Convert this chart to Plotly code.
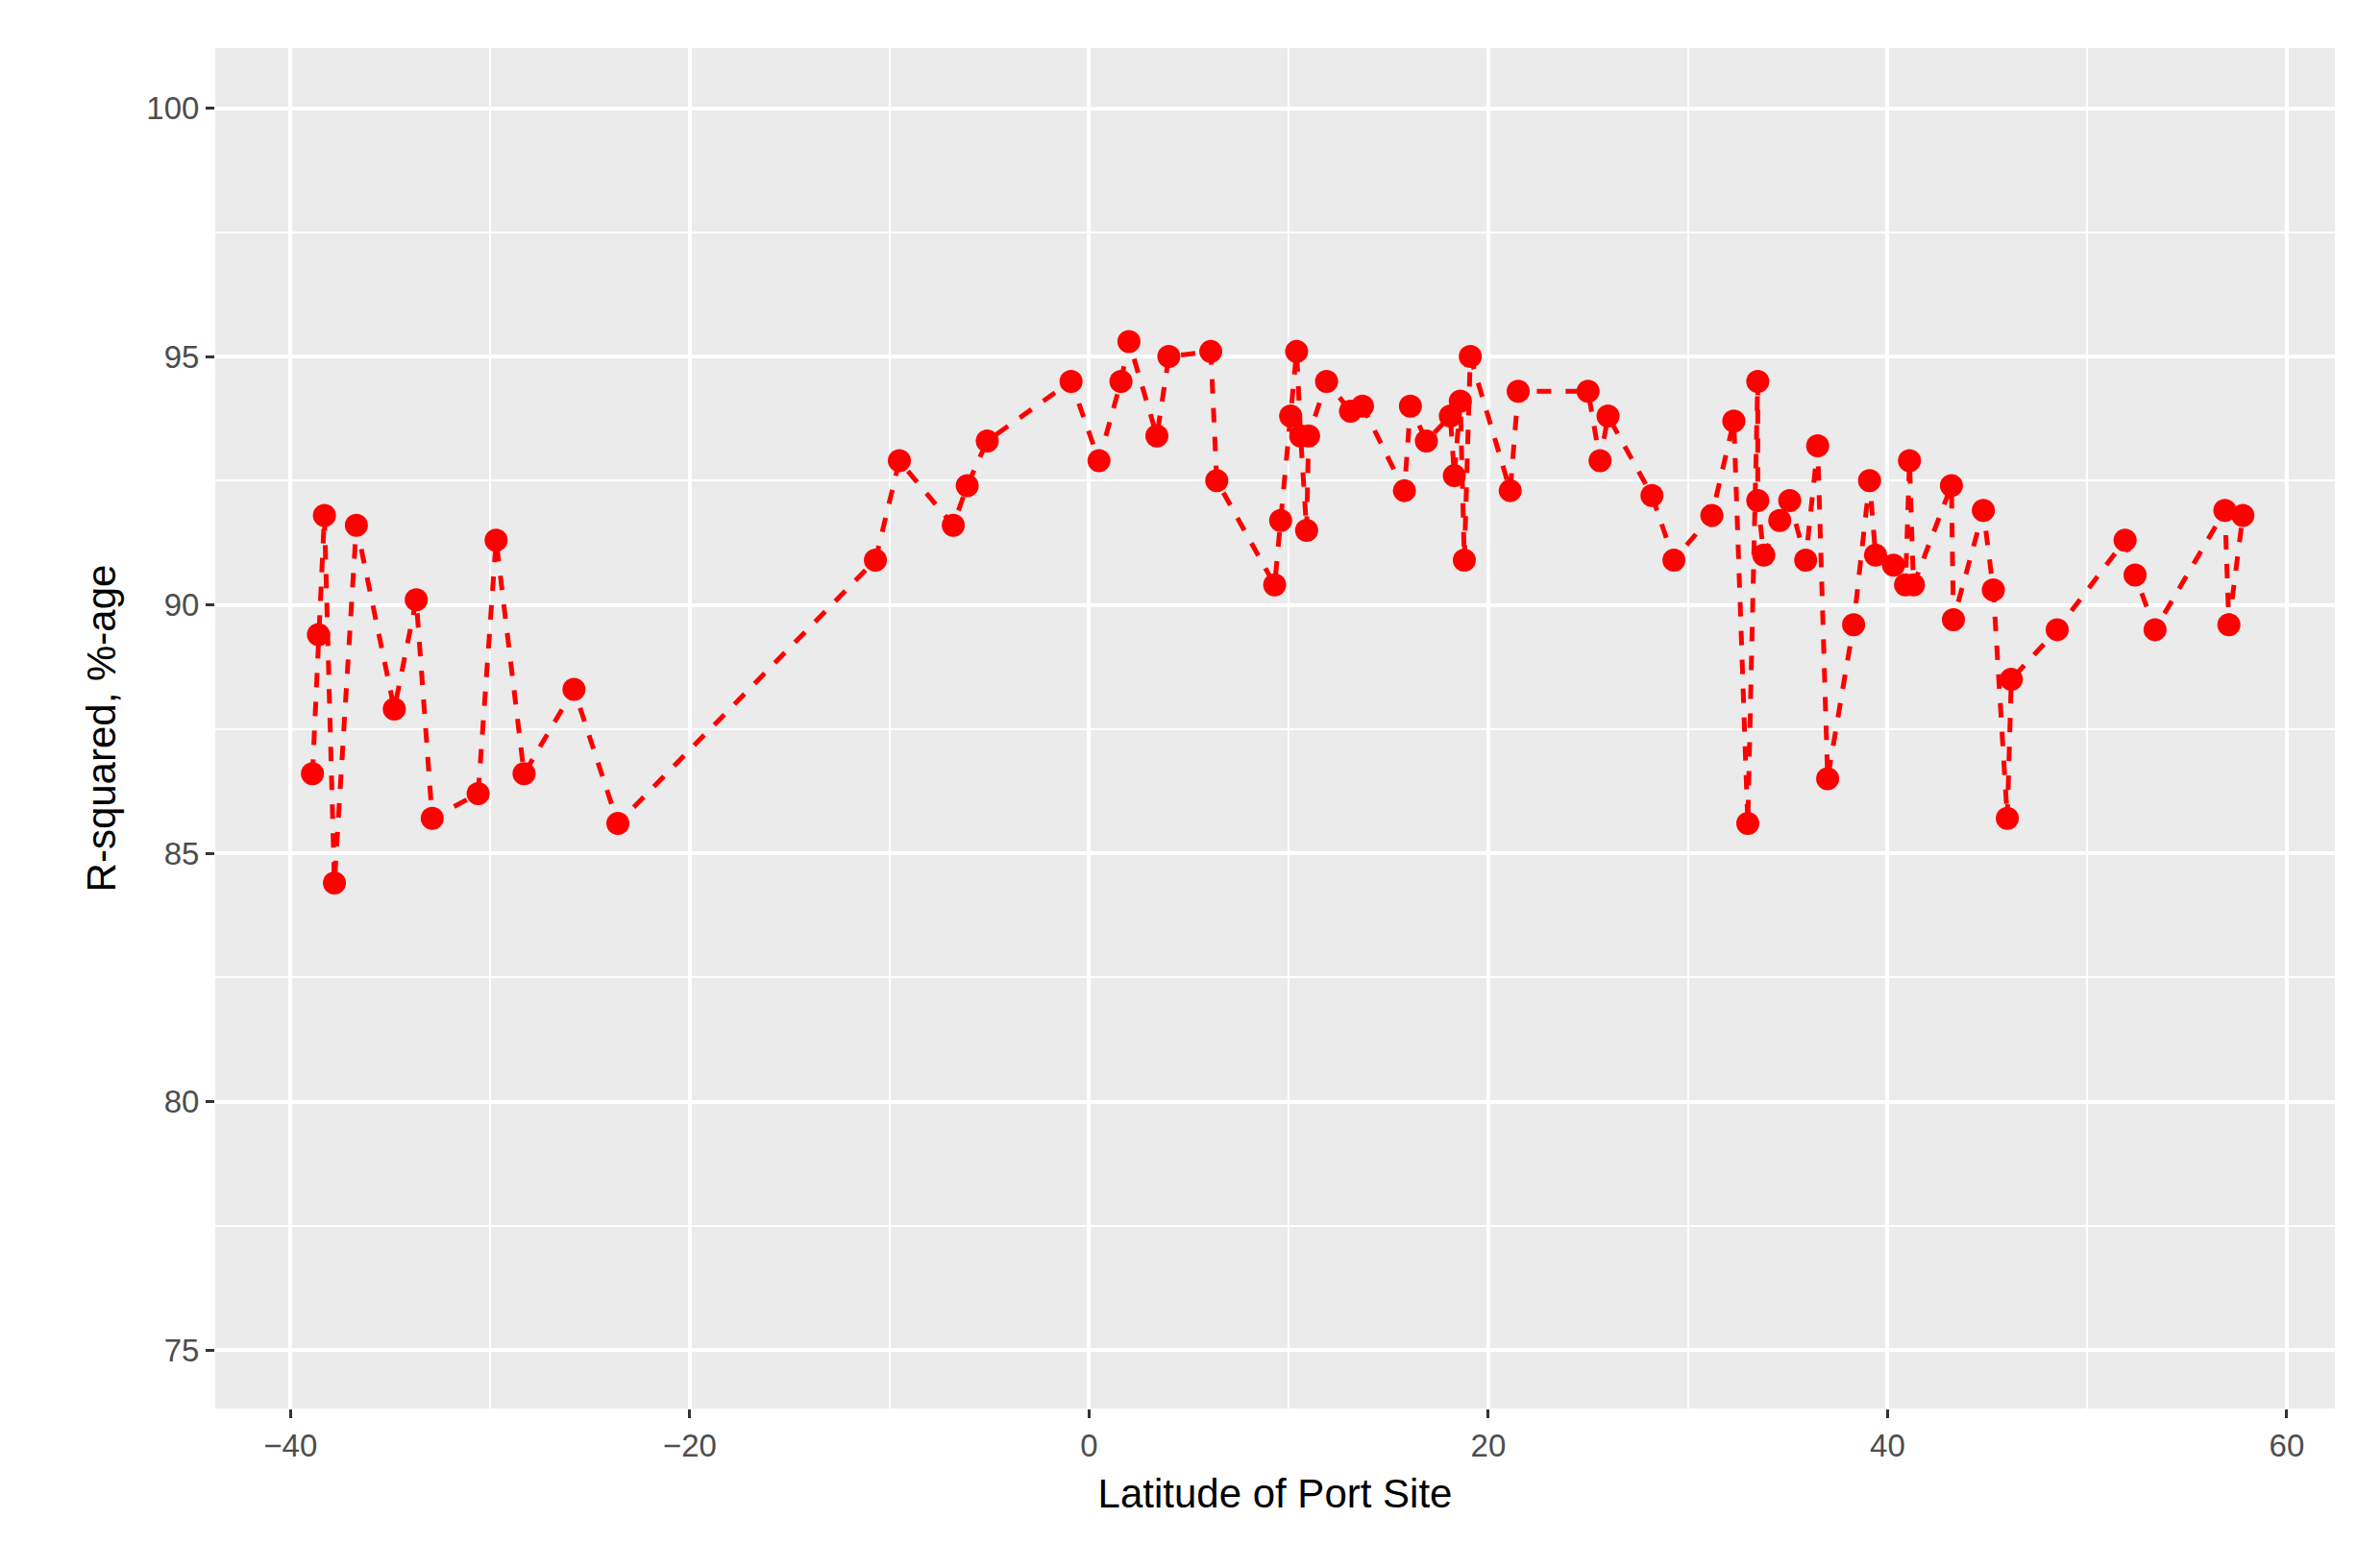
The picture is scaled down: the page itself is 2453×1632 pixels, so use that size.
import plotly.graph_objects as go

latitude = [-38.9, -38.6, -38.3, -37.8, -36.7, -34.8, -33.7, -32.9, -30.6, -29.7,
            -28.3, -25.8, -23.6, -10.7, -9.5, -6.8, -6.1, -5.1, -0.9, 0.5,
            1.6, 2.0, 3.4, 4.0, 6.1, 6.4, 9.3, 9.6, 10.1, 10.4,
            10.6, 10.9, 11.0, 11.9, 13.1, 13.7, 15.8, 16.1, 16.9, 18.1,
            18.3, 18.6, 18.8, 19.1, 21.1, 21.5, 25.0, 25.6, 26.0, 28.2,
            29.3, 31.2, 32.3, 33.0, 33.5, 33.5, 33.8, 34.6, 35.1, 35.9,
            36.5, 37.0, 38.3, 39.1, 39.4, 40.3, 40.9, 41.1, 41.3, 43.2,
            43.3, 44.8, 45.3, 46.0, 46.2, 48.5, 51.9, 52.4, 53.4, 56.9,
            57.1, 57.8]
r_squared = [86.6, 89.4, 91.8, 84.4, 91.6, 87.9, 90.1, 85.7, 86.2, 91.3,
             86.6, 88.3, 85.6, 90.9, 92.9, 91.6, 92.4, 93.3, 94.5, 92.9,
             94.5, 95.3, 93.4, 95.0, 95.1, 92.5, 90.4, 91.7, 93.8, 95.1,
             93.4, 91.5, 93.4, 94.5, 93.9, 94.0, 92.3, 94.0, 93.3, 93.8,
             92.6, 94.1, 90.9, 95.0, 92.3, 94.3, 94.3, 92.9, 93.8, 92.2,
             90.9, 91.8, 93.7, 85.6, 94.5, 92.1, 91.0, 91.7, 92.1, 90.9,
             93.2, 86.5, 89.6, 92.5, 91.0, 90.8, 90.4, 92.9, 90.4, 92.4,
             89.7, 91.9, 90.3, 85.7, 88.5, 89.5, 91.3, 90.6, 89.5, 91.9,
             89.6, 91.8]

fig = go.Figure(go.Scatter(
    x=latitude, y=r_squared, mode="lines+markers",
    line=dict(color="#FF0000", width=5, dash="dash"),
    marker=dict(color="#FF0000", size=24),
))

axis_common = dict(
    showgrid=True, gridcolor="white", gridwidth=3.5, zeroline=False,
    ticks="outside", ticklen=9, tickcolor="#333333", tickwidth=3,
    tickfont=dict(family="Liberation Sans, Arial", size=33, color="#4D4D4D"),
    title_font=dict(family="Liberation Sans, Arial", size=42, color="black"),
    showline=False,
)
fig.update_xaxes(axis_common, range=[-43.77, 62.41], tickvals=[-40, -20, 0, 20, 40, 60],
                 minor=dict(tickvals=[-30, -10, 10, 30, 50], showgrid=True,
                            gridcolor="white", gridwidth=1.8, ticks=""),
                 title_text="Latitude of Port Site", title_standoff=18)
fig.update_yaxes(axis_common, range=[73.82, 101.21], tickvals=[75, 80, 85, 90, 95, 100],
                 minor=dict(tickvals=[77.5, 82.5, 87.5, 92.5, 97.5], showgrid=True,
                            gridcolor="white", gridwidth=1.8, ticks=""),
                 title_text="R-squared, %-age", title_standoff=18)
fig.update_layout(
    width=2453, height=1632,
    plot_bgcolor="#EBEBEB", paper_bgcolor="white",
    margin=dict(l=216, r=31, t=42, b=174),
    showlegend=False,
)
fig.write_html("out.html")
